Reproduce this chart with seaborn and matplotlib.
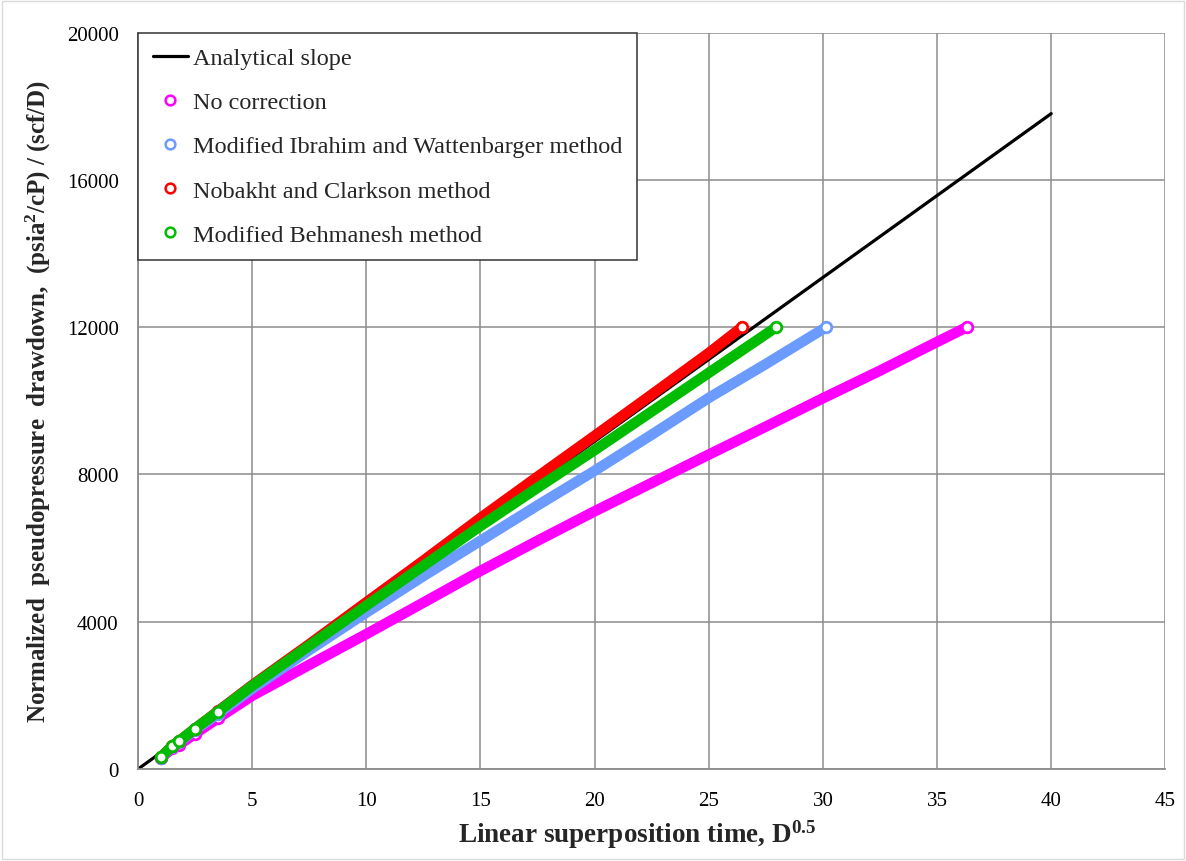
import matplotlib
matplotlib.use("Agg")
import matplotlib.pyplot as plt
from matplotlib.lines import Line2D
from matplotlib.patches import Rectangle
import numpy as np
import pandas as pd
import seaborn as sns

# ---- data ---------------------------------------------------------------
analytical_x = [0.0, 40.0]
analytical_y = [0.0, 17800.0]

no_corr_x = [1.0, 1.5, 1.8, 2.5, 3.5, 5.0, 7.5, 10.0, 12.5, 15.0, 17.5, 20.0,
             22.5, 25.0, 27.5, 30.0, 32.5, 35.0, 36.3]
no_corr_y = [300, 560, 660, 960, 1380, 1990, 2830, 3665, 4520, 5380, 6200, 7000,
             7770, 8540, 9300, 10070, 10820, 11600, 12000]

ibrahim_x = [1.0, 1.5, 1.8, 2.5, 3.5, 5.0, 7.5, 10.0, 12.5, 15.0, 17.5, 20.0,
             22.5, 25.0, 27.5, 30.14]
ibrahim_y = [310, 610, 730, 1060, 1500, 2180, 3230, 4250, 5240, 6200, 7160, 8100,
             9080, 10080, 11000, 12000]

nobakht_x = [1.0, 1.5, 1.8, 2.5, 3.5, 5.0, 7.5, 10.0, 12.5, 15.0, 17.5, 20.0,
             22.5, 25.0, 26.45]
nobakht_y = [320, 630, 760, 1100, 1570, 2280, 3390, 4530, 5660, 6820, 7940, 9050,
             10170, 11300, 12000]

behmanesh_x = [1.0, 1.5, 1.8, 2.5, 3.5, 5.0, 7.5, 10.0, 12.5, 15.0, 17.5, 20.0,
               22.5, 25.0, 27.95]
behmanesh_y = [320, 630, 760, 1100, 1560, 2260, 3350, 4440, 5520, 6600, 7640, 8660,
               9710, 10760, 12000]

series_names = ["No correction", "Modified Ibrahim and Wattenbarger method",
                "Nobakht and Clarkson method", "Modified Behmanesh method"]
series_colors = ["#FF00FF", "#6B9BFF", "#FF0000", "#00BB00"]
x_ticks = [0, 5, 10, 15, 20, 25, 30, 35, 40, 45]
y_ticks = [0, 4000, 8000, 12000, 16000, 20000]

# ---- style --------------------------------------------------------------
sns.set_theme(style="whitegrid")
plt.rcParams["font.family"] = ["Liberation Serif", "DejaVu Serif"]
plt.rcParams["mathtext.fontset"] = "custom"
plt.rcParams["mathtext.rm"] = "Liberation Serif"
plt.rcParams["mathtext.bf"] = "Liberation Serif:bold"
plt.rcParams["mathtext.default"] = "regular"

fig = plt.figure(figsize=(11.86, 8.62), dpi=100)
ax = fig.add_axes([0.1164, 0.1067, 0.8662, 0.8543])
ax.set_facecolor("white")

grid_col = "#8C8C8C"

# analytical straight line
sns.lineplot(x=analytical_x, y=analytical_y, color="black", linewidth=2.3,
             ax=ax, sort=False, estimator=None, zorder=2)

series = [
    (no_corr_x, no_corr_y),
    (ibrahim_x, ibrahim_y),
    (nobakht_x, nobakht_y),
    (behmanesh_x, behmanesh_y),
]

for k, ((xs, ys), name, col) in enumerate(zip(series, series_names, series_colors)):
    df = pd.DataFrame({"x": xs, "y": ys})
    # dense run of points drawn as a solid band
    sns.lineplot(data=df, x="x", y="y", color=col, linewidth=7.6,
                 ax=ax, sort=False, estimator=None, zorder=3 + k,
                 solid_capstyle="round")
    # individual open circles where the points are well separated, plus the last point
    sel = df[(df["x"] <= 3.6) | (df.index == len(df) - 1)]
    sns.scatterplot(data=sel, x="x", y="y", marker="o", s=58,
                    facecolor="white", edgecolor=col, linewidth=2.0,
                    ax=ax, zorder=3.5 + k)

# ---- axes ---------------------------------------------------------------
ax.set_xlim(0, 45)
ax.set_ylim(0, 20000)
ax.set_xticks(x_ticks)
ax.set_yticks(y_ticks)
ax.set_xticklabels([str(v) for v in x_ticks])
ax.set_yticklabels([str(v) for v in y_ticks])
ax.grid(True, color=grid_col, linewidth=1.1)
for side in ["top", "right"]:
    ax.spines[side].set_visible(False)
for side in ["left", "bottom"]:
    ax.spines[side].set_visible(True)
    ax.spines[side].set_color(grid_col)
    ax.spines[side].set_linewidth(1.3)
ax.tick_params(axis="both", which="major", direction="out", length=5,
               width=1.0, color=grid_col, labelsize=15, colors="black")
ax.tick_params(axis="x", pad=11)
ax.tick_params(axis="y", pad=9)
for t in ax.get_xticklabels() + ax.get_yticklabels():
    t.set_color("black")

ax.set_xlabel("Linear superposition time, D$^{0.5}$", fontsize=19.5,
              fontweight="bold")
ax.xaxis.set_label_coords(0.486, -0.066)
ax.set_ylabel("Normalized  pseudopressure  drawdown,  (psia$^{2}$/cP) / (scf/D)",
              fontsize=18, fontweight="bold", labelpad=10)

# ---- legend -------------------------------------------------------------
handles = [Line2D([0], [0], color="black", linewidth=2.3)]
for col in series_colors:
    handles.append(Line2D([0], [0], linestyle="none", marker="o", markersize=7,
                          markerfacecolor="white", markeredgecolor=col,
                          markeredgewidth=1.8))
labels = ["Analytical slope"] + series_names
leg = ax.legend(handles, labels, loc="upper left", bbox_to_anchor=(0, 1),
                borderaxespad=0, fontsize=17.5, frameon=True, fancybox=False,
                edgecolor="#333333", framealpha=1, handlelength=1.45,
                handletextpad=0.2, labelspacing=0.91, borderpad=0.6)
leg.get_frame().set_linewidth(1.1)
leg.set_zorder(20)

# outer chart border
fig.patches.append(Rectangle((0.002, 0.002), 0.996, 0.996, transform=fig.transFigure,
                             fill=False, edgecolor="#D9D9D9", linewidth=1.0))

fig.savefig("out.png", dpi=100)
